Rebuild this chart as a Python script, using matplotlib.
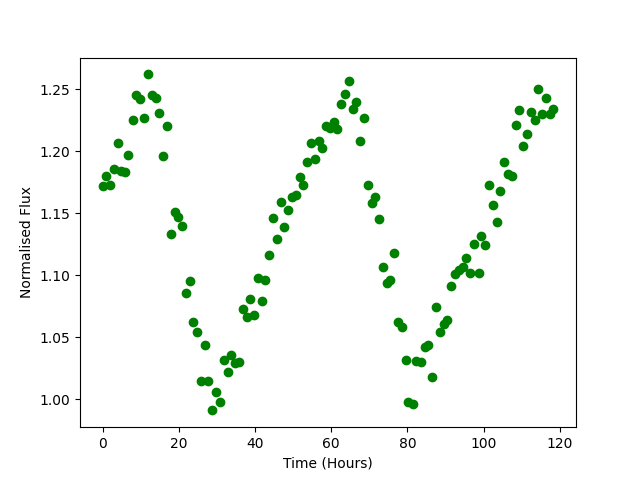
import matplotlib
matplotlib.use("Agg")
import matplotlib.pyplot as plt

time_hours = [
    0.0, 0.8, 1.84, 2.9, 4.0, 4.8, 5.95, 6.8, 7.9, 8.9,
    9.8, 10.8, 11.9, 12.9, 14.0, 14.8, 15.8, 16.9, 17.9, 19.0,
    19.8, 20.8, 21.9, 22.9, 23.7, 24.8, 25.8, 26.8, 27.7, 28.7,
    29.75, 30.8, 31.8, 32.9, 33.8, 34.7, 35.8, 36.9, 37.9, 38.7,
    39.8, 40.8, 41.8, 42.7, 43.7, 44.7, 45.8, 46.8, 47.7, 48.7,
    49.7, 50.8, 51.7, 52.6, 53.7, 54.7, 55.75, 56.8, 57.6, 58.6,
    59.7, 60.7, 61.6, 62.6, 63.6, 64.7, 65.7, 66.6, 67.6, 68.6,
    69.7, 70.7, 71.6, 72.6, 73.6, 74.6, 75.5, 76.5, 77.5, 78.6,
    79.6, 80.3, 81.6, 82.4, 83.7, 84.6, 85.4, 86.6, 87.5, 88.6,
    89.5, 90.4, 91.5, 92.5, 93.5, 94.5, 95.4, 96.4, 97.5, 98.7,
    99.35, 100.5, 101.5, 102.5, 103.5, 104.3, 105.4, 106.4, 107.4, 108.5,
    109.2, 110.4, 111.4, 112.5, 113.5, 114.2, 115.4, 116.4, 117.5, 118.35,
]

flux = [
    1.172, 1.180, 1.173, 1.186, 1.207, 1.184, 1.183, 1.197, 1.225, 1.245,
    1.242, 1.227, 1.262, 1.245, 1.243, 1.231, 1.196, 1.220, 1.133, 1.151,
    1.147, 1.140, 1.086, 1.095, 1.062, 1.054, 1.015, 1.044, 1.015, 0.991,
    1.006, 0.998, 1.032, 1.022, 1.036, 1.029, 1.030, 1.073, 1.066, 1.081,
    1.068, 1.098, 1.079, 1.096, 1.116, 1.146, 1.129, 1.159, 1.139, 1.153,
    1.163, 1.165, 1.179, 1.173, 1.191, 1.207, 1.194, 1.208, 1.203, 1.220,
    1.219, 1.224, 1.218, 1.238, 1.246, 1.257, 1.234, 1.240, 1.208, 1.227,
    1.173, 1.158, 1.163, 1.145, 1.107, 1.094, 1.096, 1.118, 1.062, 1.058,
    1.032, 0.998, 0.996, 1.031, 1.030, 1.042, 1.044, 1.018, 1.074, 1.054,
    1.061, 1.064, 1.091, 1.101, 1.104, 1.107, 1.114, 1.102, 1.125, 1.102,
    1.132, 1.124, 1.173, 1.157, 1.143, 1.168, 1.191, 1.182, 1.180, 1.221,
    1.233, 1.204, 1.214, 1.232, 1.225, 1.250, 1.230, 1.243, 1.230, 1.234,
]

fig, ax = plt.subplots(figsize=(6.4, 4.8), dpi=100)
ax.plot(time_hours, flux, 'o', color='green', linestyle='none')
ax.set_xlabel('Time (Hours)')
ax.set_ylabel('Normalised Flux')
fig.savefig('out.png', dpi=100)
